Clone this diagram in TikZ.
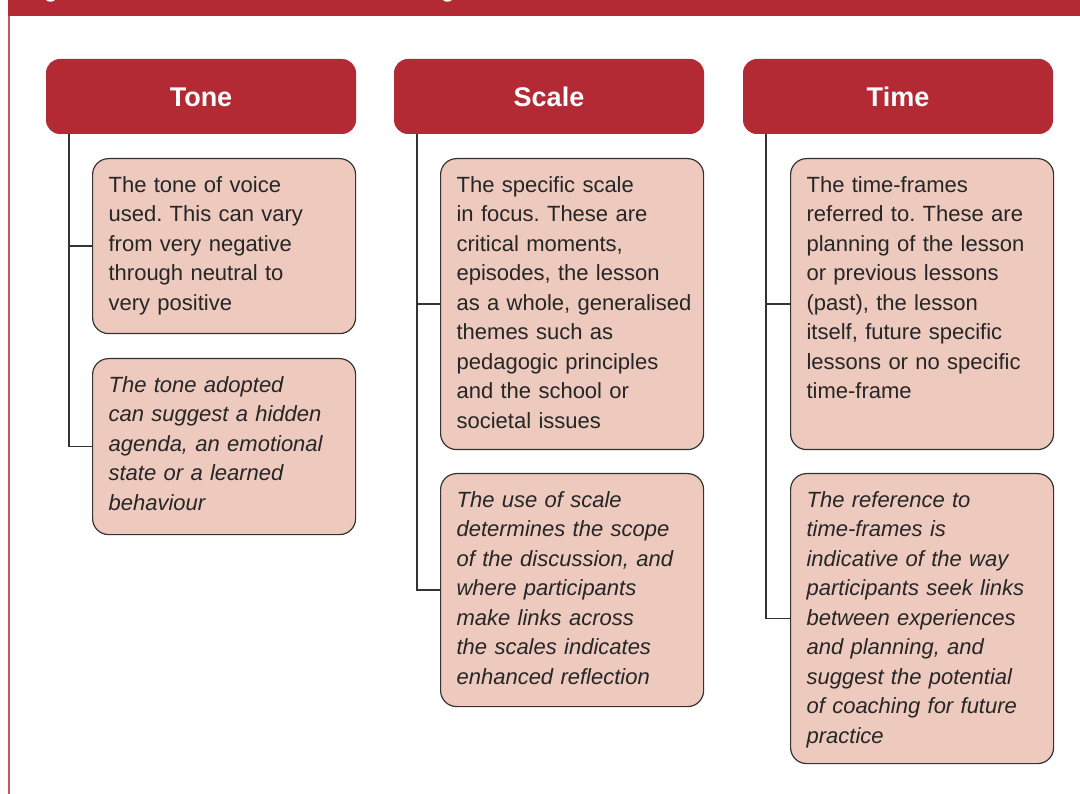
\documentclass[tikz,border=0pt]{standalone}
\usepackage{fontspec}
\setmainfont{Liberation Sans}
\frenchspacing
\definecolor{hdred}{RGB}{179,41,52}
\definecolor{boxfill}{RGB}{237,201,190}
\definecolor{boxline}{RGB}{55,50,50}
\definecolor{sideline}{RGB}{200,85,95}
\newcommand{\bxtext}[2]{\parbox[c][#1][t]{260pt}{\raggedright\rule{0pt}{33.7pt}#2}}
\tikzset{
  hdr/.style={fill=hdred, rounded corners=14pt, minimum width=310pt, minimum height=75pt,
    inner sep=0pt, text=white, text height=19.5pt, text depth=0pt, font=\fontsize{27}{30}\selectfont\bfseries},
  bx/.style={draw=boxline, line width=1.2pt, fill=boxfill, rounded corners=16pt,
    anchor=north west, text width=231pt, inner xsep=16pt, inner ysep=0pt,
    text=black!85, font=\fontsize{22}{29.5}\selectfont},
  conn/.style={draw=boxline, line width=1.4pt},
}
\begin{document}
\begin{tikzpicture}[x=1pt, y=-1pt]
\useasboundingbox (0,0) rectangle (1080,794);
% top bar and side line
\fill[hdred] (8,0) rectangle (1080,16.5);
\draw[sideline, line width=1.6pt] (8.8,16.5) -- (8.8,794);
\begin{scope}
  \clip (8,0) rectangle (1080,16.5);
  \node[anchor=base west, inner sep=0pt, text=white, font=\fontsize{22}{24}\selectfont\bfseries] (ga) at (44,-2) {g};
  \node[anchor=base west, inner sep=0pt, text=white, font=\fontsize{22}{24}\selectfont\bfseries] (gb) at (441,-2) {g};
\end{scope}
% headers
\node[hdr] (tone) at (201,96.5) {Tone};
\node[hdr] (scale) at (549,96.5) {Scale};
\node[hdr] (time) at (898,96.5) {Time};
% Tone boxes
\node[bx] (t1) at (92,158) {\bxtext{175pt}{The tone of voice\\used. This can vary\\from very negative\\through neutral to\\very positive}};
\node[bx] (t2) at (92,358) {\bxtext{176pt}{\itshape The tone adopted\\can suggest a hidden\\agenda, an emotional\\state or a learned\\behaviour}};
% Scale boxes
\node[bx] (s1) at (440,158) {\bxtext{291pt}{The specific scale\\in focus. These are\\critical moments,\\episodes, the lesson\\as a whole, generalised\\themes such as\\pedagogic principles\\and the school or\\societal issues}};
\node[bx] (s2) at (440,473) {\bxtext{233pt}{\itshape The use of scale\\determines the scope\\of the discussion, and\\where participants\\make links across\\the scales indicates\\enhanced reflection}};
% Time boxes
\node[bx] (m1) at (790,158) {\bxtext{291pt}{The time-frames\\referred to. These are\\planning of the lesson\\or previous lessons\\(past), the lesson\\itself, future specific\\lessons or no specific\\time-frame}};
\node[bx] (m2) at (790,473) {\bxtext{290pt}{\itshape The reference to\\time-frames is\\indicative of the way\\participants seek links\\between experiences\\and planning, and\\suggest the potential\\of coaching for future\\practice}};
% connectors
\draw[conn] ([xshift=23pt]tone.south west) |- (t2.west);
\draw[conn] ([xshift=23pt]tone.south west) |- (t1.west);
\draw[conn] ([xshift=23pt]scale.south west) |- (s2.west);
\draw[conn] ([xshift=23pt]scale.south west) |- (s1.west);
\draw[conn] ([xshift=23pt]time.south west) |- (m2.west);
\draw[conn] ([xshift=23pt]time.south west) |- (m1.west);
\end{tikzpicture}
\end{document}
